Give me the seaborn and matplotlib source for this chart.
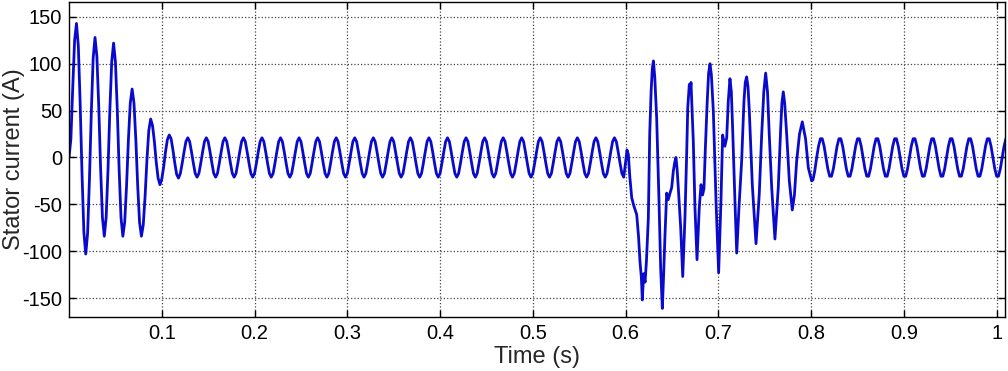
import numpy as np
import pandas as pd
import matplotlib
matplotlib.use("Agg")
import matplotlib.pyplot as plt
import seaborn as sns

# start-up transient and first steady part, sampled every 2 ms from t = 0
startup_current = [
    0, 20, 75, 125, 143, 119, 57, -18, -80, -103,
    -81, -23, 48, 106, 128, 108, 55, -11, -64, -84,
    -64, -13, 51, 102, 122, 102, 51, -13, -64, -84,
    -69, -30, 19, 58, 73, 58, 19, -30, -69, -84,
    -72, -41, -2, 29, 41, 34, 17, -5, -22, -29,
    -23, -10, 6, 19, 24, 20, 8, -6, -18, -22,
    -17, -6, 6, 17, 21, 17, 6, -6, -17, -21,
    -17, -6, 6, 17, 21, 17, 6, -6, -17, -21,
    -17, -6, 6, 17, 21, 17, 6, -6, -17, -21,
    -17, -6, 6, 17, 21, 17, 6, -6, -17, -21,
    -17, -6, 6, 17, 21, 17, 6, -6, -17, -21,
    -17, -6, 6, 17, 21, 17, 6, -6, -17, -21,
    -17, -6, 6, 17, 21, 17, 6, -6, -17, -21,
    -17, -6, 6, 17, 21, 17, 6, -6, -17, -21,
    -17, -6, 6, 17, 21, 17, 6, -6, -17, -21,
    -17, -6, 6, 17, 21, 17, 6, -6, -17, -21,
    -17, -6, 6, 17, 21, 17, 6, -6, -17, -21,
    -17, -6, 6, 17, 21, 17, 6, -6, -17, -21,
    -17, -6, 6, 17, 21, 17, 6, -6, -17, -21,
    -17, -6, 6, 17, 21, 17, 6, -6, -17, -21,
    -17, -6, 6, 17, 21, 17, 6, -6, -17, -21,
    -17, -6, 6, 17, 21, 17, 6, -6, -17, -21,
    -17, -6, 6, 17, 21, 17, 6, -6, -17, -21,
    -17, -6, 6, 17, 21, 17, 6, -6, -17, -21,
    -17, -6, 6, 17, 21, 17, 6, -6, -17, -21,
    -17, -6, 6, 17, 21, 17, 6, -6, -17, -21,
    -17, -6, 6, 17, 21, 17, 6, -6, -17, -21,
    -17, -6, 6, 17, 21, 17, 6, -6, -17, -21,
    -17, -6, 6, 17, 21, 17, 6, -6, -17, -21,
    -17, -6, 6, 17, 21, 17, 6, -6, -17, -21,
]

# fault / disturbance between 0.6 s and 0.8 s (time, current)
fault = [
    (0.6000, -5), (0.6015, 8), (0.6030, 3), (0.6045, -20), (0.6066, -43),
    (0.6090, -52), (0.6120, -61), (0.6140, -85), (0.6155, -111), (0.6170, -128),
    (0.6180, -152), (0.6195, -124), (0.6210, -133), (0.6225, -110), (0.6245, -65),
    (0.6260, 25), (0.6275, 70), (0.6288, 95), (0.6300, 103), (0.6315, 85),
    (0.6335, 42), (0.6360, -46), (0.6378, -118), (0.6396, -161), (0.6410, -125),
    (0.6425, -82), (0.6443, -38), (0.6460, -45), (0.6479, -38), (0.6497, -32),
    (0.6514, -15), (0.6530, -5), (0.6543, 0), (0.6555, -12), (0.6568, -32),
    (0.6594, -75), (0.6616, -127), (0.6640, -64), (0.6659, 6), (0.6670, 53),
    (0.6687, 78), (0.6696, 70), (0.6705, 80), (0.6730, 17), (0.6748, -54),
    (0.6770, -109), (0.6794, -54), (0.6813, -29), (0.6830, -40), (0.6845, -33),
    (0.6860, 10), (0.6880, 60), (0.6895, 90), (0.6910, 100), (0.6925, 88),
    (0.6946, 49), (0.6975, -47), (0.7003, -123), (0.7028, -47), (0.7046, 24),
    (0.7070, 12), (0.7090, 21), (0.7107, 60), (0.7125, 84), (0.7140, 70),
    (0.7154, 31), (0.7179, -47), (0.7198, -102), (0.7222, -54), (0.7251, -4),
    (0.7276, 60), (0.7290, 80), (0.7305, 86), (0.7320, 75), (0.7334, 49),
    (0.7366, -29), (0.7406, -92), (0.7441, -39), (0.7467, 24), (0.7490, 70),
    (0.7510, 90), (0.7530, 70), (0.7549, 24), (0.7575, -32), (0.7610, -87),
    (0.7646, -32), (0.7672, 31), (0.7685, 58), (0.7700, 70), (0.7715, 58),
    (0.7737, 24), (0.7765, -25), (0.7797, -56), (0.7820, -40), (0.7844, -4),
    (0.7875, 25), (0.7905, 38), (0.7940, 20), (0.7970, -11), (0.8006, -25),
]

# steady state after the fault, sampled every 2 ms from t = 0.802 s
recovery_current = [
    -24, -14, 0, 12, 20, 20, 12, 0, -12, -20,
    -20, -12, 0, 12, 20, 20, 12, 0, -12, -20,
    -20, -12, 0, 12, 20, 20, 12, 0, -12, -20,
    -20, -12, 0, 12, 20, 20, 12, 0, -12, -20,
    -20, -12, 0, 12, 20, 20, 12, 0, -12, -20,
    -20, -12, 0, 12, 20, 20, 12, 0, -12, -20,
    -20, -12, 0, 12, 20, 20, 12, 0, -12, -20,
    -20, -12, 0, 12, 20, 20, 12, 0, -12, -20,
    -20, -12, 0, 12, 20, 20, 12, 0, -12, -20,
    -20, -12, 0, 12, 20, 20, 12, 0, -12, -20,
    -20, -12, 0, 12, 20,
]

x_ticks = [0.1, 0.2, 0.3, 0.4, 0.5, 0.6, 0.7, 0.8, 0.9, 1.0]
x_tick_labels = ["0.1", "0.2", "0.3", "0.4", "0.5", "0.6", "0.7", "0.8", "0.9", "1"]
y_ticks = [-150, -100, -50, 0, 50, 100, 150]

t_start = np.arange(len(startup_current)) * 0.002
fault_t = [p[0] for p in fault]
fault_i = [p[1] for p in fault]
t_rec = 0.802 + np.arange(len(recovery_current)) * 0.002

df = pd.DataFrame({
    "t": np.concatenate([t_start, fault_t, t_rec]),
    "i": np.concatenate([startup_current, fault_i, recovery_current]),
})

sns.set_style("ticks")
plt.rcParams["font.family"] = ["Liberation Sans", "DejaVu Sans"]
plt.rcParams["axes.unicode_minus"] = False

fig = plt.figure(figsize=(10.08, 3.71), dpi=100)
ax = fig.add_axes([0.0685, 0.146, 0.9285, 0.849])

sns.lineplot(data=df, x="t", y="i", ax=ax, color="#0a0acc", linewidth=2.0,
             sort=False, estimator=None)

ax.set_xlim(0, 1.009)
ax.set_ylim(-170, 166)
ax.set_xticks(x_ticks)
ax.set_xticklabels(x_tick_labels)
ax.set_yticks(y_ticks)
ax.grid(True, linestyle=":", color="#444444", linewidth=0.9)
ax.tick_params(direction="in", top=True, right=True, length=5, width=1,
               labelsize=14.5, colors="black", pad=5)
for s in ax.spines.values():
    s.set_color("black")
    s.set_linewidth(1)

ax.set_xlabel("Time (s)", fontsize=17, labelpad=2)
ax.set_ylabel("Stator current (A)", fontsize=17)
ax.yaxis.set_label_coords(-0.047, 0.5)

fig.savefig("out.png", dpi=100)
